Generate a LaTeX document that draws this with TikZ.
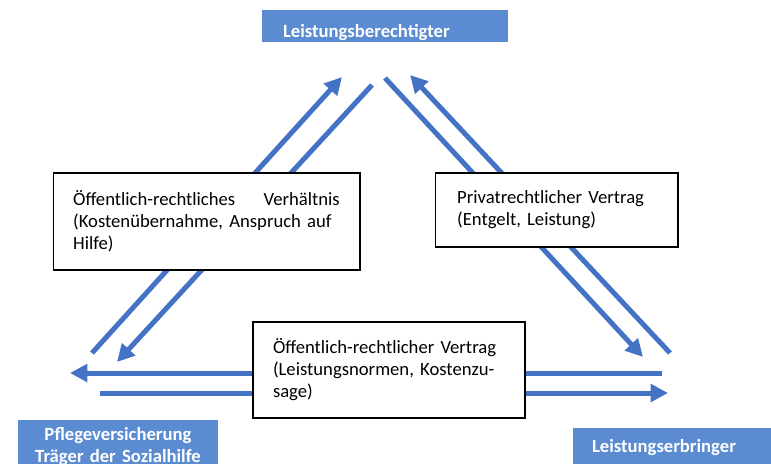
\documentclass[tikz,border=0pt]{standalone}
\usepackage{fontspec}
\setmainfont{Carlito}
\usepackage{tikz}
\usetikzlibrary{arrows.meta}
\definecolor{boxblue}{RGB}{91,139,208}
\definecolor{arrowblue}{RGB}{68,114,196}

\begin{document}
\begin{tikzpicture}[
		x=0.75pt, y=-0.75pt,
		Pfeil/.style={draw=arrowblue, line width=3.75pt,
			-{Triangle[length=13pt, width=13pt]}},
		Partei/.style={fill=boxblue, text=white, inner ysep=0pt, outer sep=0pt,
			font=\fontsize{14}{16.5}\selectfont\bfseries},
		Beziehung/.style={draw, fill=white, line width=1pt, align=left,
			outer sep=0pt, font=\fontsize{14}{16.5}\selectfont},
		]
		\clip (0,0) rectangle (771,464);
		\fill[white] (0,0) rectangle (771,464);
		
		% Parteien
		\node [Partei, anchor=north west, text width=153pt, inner xsep=15.75pt,
			text height=20.25pt, text depth=3.75pt] (LB) at (262,10) {Leistungsberechtigter};
		\node [Partei, anchor=north west, text width=150pt, inner xsep=0pt,
			align=center, inner ysep=0.5pt, minimum height=40pt] (PV) at (18,420)
			{Pflegeversicherung\\Träger der Sozialhilfe};
		\node [Partei, anchor=north west, text width=136pt, inner xsep=14.25pt,
			text height=18pt, text depth=12pt] (LE) at (573,428) {Leistungserbringer};
		
		% Pfeilenden
		\coordinate (a1) at (92,353);  \coordinate (a2) at (342,77);
		\coordinate (b1) at (372,85);  \coordinate (b2) at (117,362);
		\coordinate (c1) at (385,78);  \coordinate (c2) at (643,357);
		\coordinate (d1) at (670,353); \coordinate (d2) at (410,75);
		\coordinate (e1) at (662,373); \coordinate (e2) at (70,373);
		\coordinate (f1) at (100,393); \coordinate (f2) at (668,393);
		
		\draw [Pfeil] (a1) -- (a2);
		\draw [Pfeil] (b1) -- (b2);
		\draw [Pfeil] (c1) -- (c2);
		\draw [Pfeil] (d1) -- (d2);
		\draw [Pfeil] (e1) -- (e2);
		\draw [Pfeil] (f1) -- (f2);
		
		% Beziehungen
		\node [Beziehung, text width=200pt, inner xsep=15pt, minimum height=72.75pt]
			(V1) at (206.5,221.5)
			{Öffentlich-rechtliches\hfill Verhältnis\\(Kostenübernahme, Anspruch auf\\Hilfe)};
		\node [Beziehung, text width=149pt, inner xsep=16.5pt, minimum height=55.5pt]
			(V2) at (556.5,210)
			{Privatrechtlicher Vertrag\\(Entgelt, Leistung)};
		\node [Beziehung, text width=174pt, inner xsep=15pt, minimum height=72pt]
			(V3) at (389,370)
			{Öffentlich-rechtlicher Vertrag\\(Leistungsnormen, Kostenzu-\\sage)};
		
\end{tikzpicture}
\end{document}
